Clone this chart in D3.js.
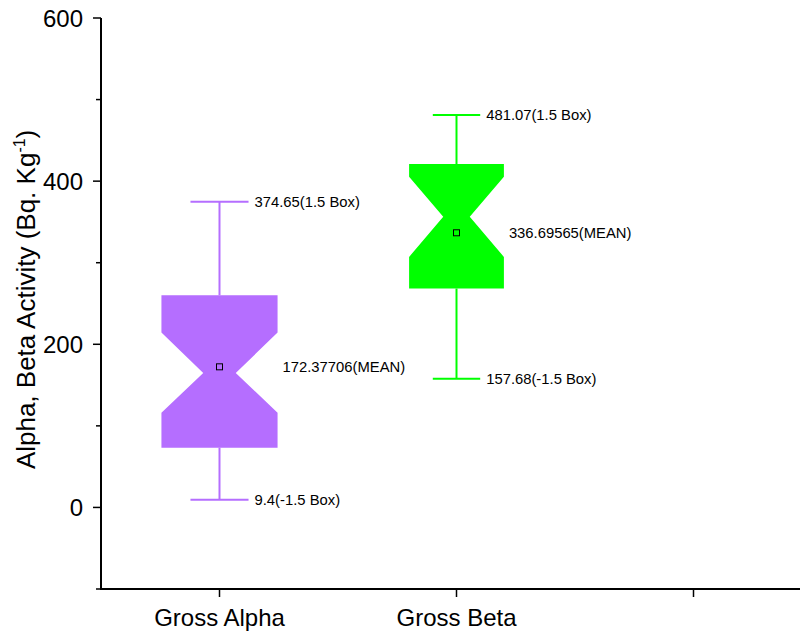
<!DOCTYPE html>
<html>
<head>
<meta charset="utf-8">
<script src="https://cdn.jsdelivr.net/npm/d3@7"></script>
<style>
  html, body { margin: 0; padding: 0; background: #fff; }
  svg { display: block; font-family: "Liberation Sans", Arial, sans-serif; }
</style>
</head>
<body>
<svg id="chart" width="800" height="632"></svg>
<script>
// Notched box statistics for gross alpha / gross beta activity (Bq/kg)
const categories = ["Gross Alpha", "Gross Beta"];
const q1 = [73.3, 268.3];
const medians = [164.8, 356.2];
const q3 = [260.1, 420.9];
const notchLow = [116.2, 307.1];
const notchHigh = [214.4, 405.3];
const whiskerLow = [9.4, 157.68];
const whiskerHigh = [374.65, 481.07];
const means = [172.37706, 336.69565];
const meanLabels = ["172.37706(MEAN)", "336.69565(MEAN)"];
const lowLabels = ["9.4(-1.5 Box)", "157.68(-1.5 Box)"];
const highLabels = ["374.65(1.5 Box)", "481.07(1.5 Box)"];
const yTicks = [0, 200, 400, 600];
const yMinorTicks = [-100, 100, 300, 500];
const xTicks = [1, 2, 3];

const colors = ["#b56eff", "#00ff00"];
const boxWidths = [0.49, 0.40];   // full width in category units
const notchRatio = 0.28;          // notch waist as a fraction of box half-width

const svg = d3.select("#chart");
const plotLeft = 101, plotBottom = 589, plotTop = 18;

const x = d3.scaleLinear().domain([0.5, 3.5]).range([plotLeft, plotLeft + 3 * 237]);
const y = d3.scaleLinear().domain([-100, 600]).range([plotBottom, plotTop]);

// Y axis
const yAxis = svg.append("g").attr("transform", `translate(${plotLeft},0)`);
yAxis.append("line").attr("x1", 0).attr("x2", 0).attr("y1", y(600)).attr("y2", y(-100))
  .attr("stroke", "#000").attr("stroke-width", 2);
yAxis.selectAll("line.major").data(yTicks).join("line").attr("class", "major")
  .attr("x1", -8).attr("x2", 0).attr("y1", d => y(d)).attr("y2", d => y(d))
  .attr("stroke", "#000").attr("stroke-width", 1.5);
yAxis.selectAll("line.minor").data(yMinorTicks).join("line").attr("class", "minor")
  .attr("x1", -5).attr("x2", 0).attr("y1", d => y(d)).attr("y2", d => y(d))
  .attr("stroke", "#000").attr("stroke-width", 1.5);
yAxis.selectAll("text").data(yTicks).join("text")
  .attr("x", -18).attr("y", d => y(d)).attr("dy", "0.36em")
  .attr("text-anchor", "end").attr("font-size", 24).text(d => d);

// X axis
const xAxis = svg.append("g").attr("transform", `translate(0,${plotBottom})`);
xAxis.append("line").attr("x1", plotLeft - 1).attr("x2", 800).attr("y1", 0).attr("y2", 0)
  .attr("stroke", "#000").attr("stroke-width", 2);
xAxis.selectAll("line.tick").data(xTicks).join("line").attr("class", "tick")
  .attr("x1", d => x(d)).attr("x2", d => x(d)).attr("y1", 0).attr("y2", 8)
  .attr("stroke", "#000").attr("stroke-width", 1.5);
xAxis.selectAll("text").data(categories).join("text")
  .attr("x", (d, i) => x(i + 1)).attr("y", 37)
  .attr("text-anchor", "middle").attr("font-size", 24).text(d => d);

// Y title
const title = svg.append("text")
  .attr("transform", `translate(35,${y(255)}) rotate(-90)`)
  .attr("text-anchor", "middle").attr("font-size", 26);
title.append("tspan").text("Alpha, Beta Activity (Bq. Kg");
title.append("tspan").attr("dy", -10).attr("font-size", 16).text("-1");
title.append("tspan").attr("dy", 10).text(")");

// Boxes
categories.forEach((c, i) => {
  const cx = x(i + 1);
  const hw = (x(boxWidths[i] / 2) - x(0));
  const nw = hw * notchRatio;
  const capHw = hw / 2;
  const g = svg.append("g");
  const col = colors[i];

  // whiskers
  g.append("line").attr("x1", cx).attr("x2", cx).attr("y1", y(whiskerHigh[i])).attr("y2", y(q3[i]))
    .attr("stroke", col).attr("stroke-width", 2);
  g.append("line").attr("x1", cx).attr("x2", cx).attr("y1", y(q1[i])).attr("y2", y(whiskerLow[i]))
    .attr("stroke", col).attr("stroke-width", 2);
  [whiskerHigh[i], whiskerLow[i]].forEach(v => {
    g.append("line").attr("x1", cx - capHw).attr("x2", cx + capHw)
      .attr("y1", y(v)).attr("y2", y(v)).attr("stroke", col).attr("stroke-width", 2);
  });

  // notched box
  const pts = [
    [cx - hw, y(q3[i])], [cx + hw, y(q3[i])], [cx + hw, y(notchHigh[i])],
    [cx + nw, y(medians[i])], [cx + hw, y(notchLow[i])], [cx + hw, y(q1[i])],
    [cx - hw, y(q1[i])], [cx - hw, y(notchLow[i])], [cx - nw, y(medians[i])],
    [cx - hw, y(notchHigh[i])]
  ];
  g.append("path").attr("d", d3.line()(pts) + "Z").attr("fill", col).attr("stroke", "none");

  // mean marker
  g.append("rect").attr("x", cx - 3).attr("y", y(means[i]) - 3).attr("width", 6).attr("height", 6)
    .attr("fill", "none").attr("stroke", "#000").attr("stroke-width", 1);

  // labels
  const fs = 14.8;
  g.append("text").attr("x", cx + hw + 5).attr("y", y(means[i])).attr("dy", "0.36em")
    .attr("font-size", fs).text(meanLabels[i]);
  g.append("text").attr("x", cx + capHw + 6).attr("y", y(whiskerHigh[i])).attr("dy", "0.36em")
    .attr("font-size", fs).text(highLabels[i]);
  g.append("text").attr("x", cx + capHw + 6).attr("y", y(whiskerLow[i])).attr("dy", "0.36em")
    .attr("font-size", fs).text(lowLabels[i]);
});
</script>
</body>
</html>
